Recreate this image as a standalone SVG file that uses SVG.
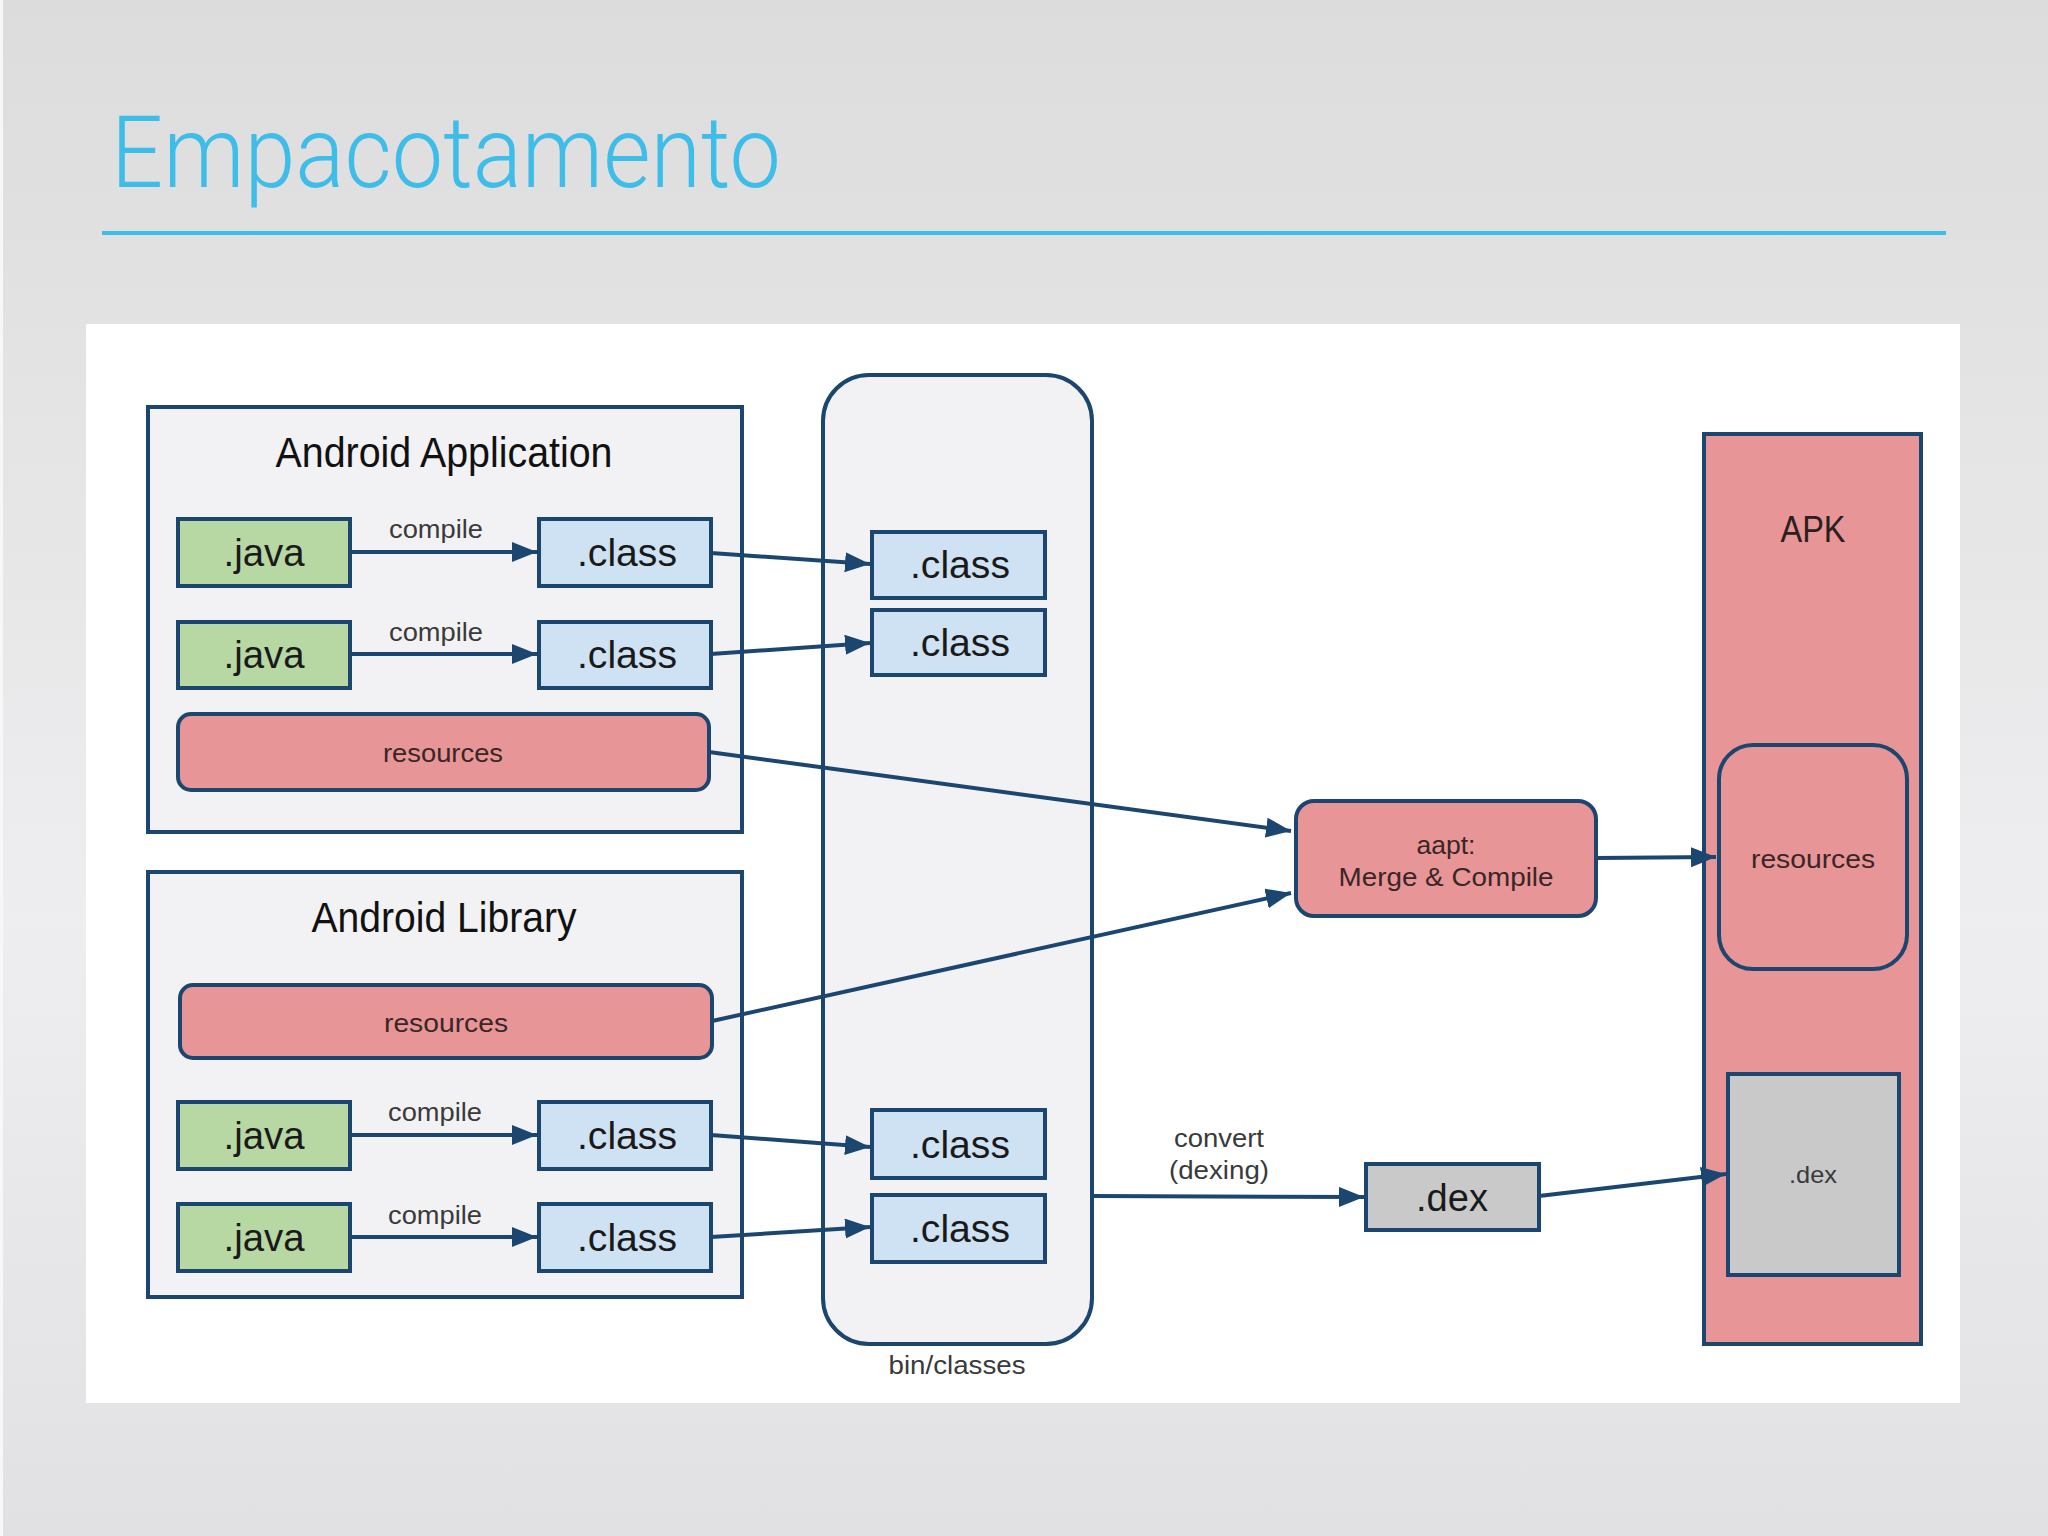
<svg xmlns="http://www.w3.org/2000/svg" width="2048" height="1536" viewBox="0 0 2048 1536">
<defs>
<linearGradient id="bg" x1="0" y1="0" x2="0" y2="1">
<stop offset="0" stop-color="#dcdcdc"/>
<stop offset="0.6" stop-color="#eeeef0"/>
<stop offset="1" stop-color="#e1e1e3"/>
</linearGradient>
<marker id="arr" markerUnits="userSpaceOnUse" markerWidth="28" markerHeight="22" refX="25" refY="10" orient="auto">
<path d="M0,0 L25,10 L0,20 z" fill="#1b4670"/>
</marker>
<style>
.frame{fill:#f2f2f4;stroke:#1b4670;stroke-width:4}
.java{fill:#b7d7a3;stroke:#1b4670;stroke-width:4}
.cls{fill:#cfe2f3;stroke:#1b4670;stroke-width:4}
.res{fill:#e89598;stroke:#1b4670;stroke-width:4}
.dex{fill:#c9c9c9;stroke:#1b4670;stroke-width:4}
.edge{fill:none;stroke:#1b4670;stroke-width:4;marker-end:url(#arr)}
text{font-family:"Liberation Sans",Arial,sans-serif;text-anchor:middle}
.big{font-size:38px;fill:#1a1a1a}
.hdr{font-size:42px;fill:#111}
.sm{font-size:25px;fill:#3a3a3a}
.rs{font-size:25px;fill:#3a2626}
</style>
</defs>
<rect x="0" y="0" width="2048" height="1536" fill="url(#bg)"/>
<rect x="0" y="0" width="3" height="1536" fill="#f7f7f7"/>
<text x="111" y="187" style="font-family:Roboto,'Open Sans',sans-serif;font-weight:300;font-size:100px;fill:#3dbde8;text-anchor:start" textLength="670" lengthAdjust="spacingAndGlyphs">Empacotamento</text>
<rect x="102" y="231" width="1844" height="4" fill="#3dbde8"/>
<rect x="86" y="324" width="1874" height="1079" fill="#ffffff"/>

<g id="bin-classes">
<rect x="823" y="375" width="269" height="969" rx="46" ry="46" class="frame"/>
<text x="957" y="1374" class="sm" textLength="137" lengthAdjust="spacingAndGlyphs">bin/classes</text>
</g>

<g id="android-application">
<rect x="148" y="407" width="594" height="425" class="frame"/>
<text x="444" y="467" class="hdr" textLength="337" lengthAdjust="spacingAndGlyphs">Android Application</text>
</g>
<g id="app-java1"><rect x="178" y="519" width="172" height="67" class="java"/><text x="264" y="566" class="big" textLength="81" lengthAdjust="spacingAndGlyphs">.java</text></g>
<g id="app-java2"><rect x="178" y="622" width="172" height="66" class="java"/><text x="264" y="668" class="big" textLength="81" lengthAdjust="spacingAndGlyphs">.java</text></g>
<g id="app-class1"><rect x="539" y="519" width="172" height="67" class="cls"/><text x="627" y="566" class="big" textLength="100" lengthAdjust="spacingAndGlyphs">.class</text></g>
<g id="app-class2"><rect x="539" y="622" width="172" height="66" class="cls"/><text x="627" y="668" class="big" textLength="100" lengthAdjust="spacingAndGlyphs">.class</text></g>
<g id="app-resources"><rect x="178" y="714" width="531" height="76" rx="13" ry="13" class="res"/><text x="443" y="762" class="rs" textLength="120" lengthAdjust="spacingAndGlyphs">resources</text></g>

<g id="android-library">
<rect x="148" y="872" width="594" height="425" class="frame"/>
<text x="444" y="932" class="hdr" textLength="265" lengthAdjust="spacingAndGlyphs">Android Library</text>
</g>
<g id="lib-resources"><rect x="180" y="985" width="532" height="73" rx="13" ry="13" class="res"/><text x="446" y="1032" class="rs" textLength="124" lengthAdjust="spacingAndGlyphs">resources</text></g>
<g id="lib-java1"><rect x="178" y="1102" width="172" height="67" class="java"/><text x="264" y="1149" class="big" textLength="81" lengthAdjust="spacingAndGlyphs">.java</text></g>
<g id="lib-java2"><rect x="178" y="1204" width="172" height="67" class="java"/><text x="264" y="1251" class="big" textLength="81" lengthAdjust="spacingAndGlyphs">.java</text></g>
<g id="lib-class1"><rect x="539" y="1102" width="172" height="67" class="cls"/><text x="627" y="1149" class="big" textLength="100" lengthAdjust="spacingAndGlyphs">.class</text></g>
<g id="lib-class2"><rect x="539" y="1204" width="172" height="67" class="cls"/><text x="627" y="1251" class="big" textLength="100" lengthAdjust="spacingAndGlyphs">.class</text></g>

<g id="bin-class1"><rect x="872" y="532" width="173" height="66" class="cls"/><text x="960" y="578" class="big" textLength="100" lengthAdjust="spacingAndGlyphs">.class</text></g>
<g id="bin-class2"><rect x="872" y="610" width="173" height="65" class="cls"/><text x="960" y="656" class="big" textLength="100" lengthAdjust="spacingAndGlyphs">.class</text></g>
<g id="bin-class3"><rect x="872" y="1110" width="173" height="68" class="cls"/><text x="960" y="1158" class="big" textLength="100" lengthAdjust="spacingAndGlyphs">.class</text></g>
<g id="bin-class4"><rect x="872" y="1195" width="173" height="67" class="cls"/><text x="960" y="1242" class="big" textLength="100" lengthAdjust="spacingAndGlyphs">.class</text></g>

<g id="aapt"><rect x="1296" y="801" width="300" height="115" rx="18" ry="18" class="res"/>
<text x="1446" y="854" class="rs" textLength="59" lengthAdjust="spacingAndGlyphs">aapt:</text>
<text x="1446" y="886" class="rs" textLength="215" lengthAdjust="spacingAndGlyphs">Merge &amp; Compile</text></g>

<g id="dex"><rect x="1366" y="1164" width="173" height="66" class="dex"/><text x="1452" y="1211" class="big" textLength="72" lengthAdjust="spacingAndGlyphs">.dex</text></g>

<g id="apk">
<rect x="1704" y="434" width="217" height="910" class="res"/>
<text x="1813" y="542" style="font-size:36px;fill:#2a2020" textLength="65" lengthAdjust="spacingAndGlyphs">APK</text>
</g>
<g id="apk-resources"><rect x="1719" y="745" width="188" height="224" rx="34" ry="34" class="res"/><text x="1813" y="868" class="rs" textLength="124" lengthAdjust="spacingAndGlyphs">resources</text></g>
<g id="apk-dex"><rect x="1728" y="1074" width="171" height="201" class="dex"/><text x="1813" y="1183" style="font-size:24px;fill:#3a3a3a" textLength="48" lengthAdjust="spacingAndGlyphs">.dex</text></g>

<g id="connectors">
<line x1="350" y1="552" x2="537" y2="552" class="edge"/>
<line x1="350" y1="654" x2="537" y2="654" class="edge"/>
<line x1="350" y1="1135" x2="537" y2="1135" class="edge"/>
<line x1="350" y1="1237" x2="537" y2="1237" class="edge"/>
<text x="436" y="538" class="sm" textLength="94" lengthAdjust="spacingAndGlyphs">compile</text>
<text x="436" y="641" class="sm" textLength="94" lengthAdjust="spacingAndGlyphs">compile</text>
<text x="435" y="1121" class="sm" textLength="94" lengthAdjust="spacingAndGlyphs">compile</text>
<text x="435" y="1224" class="sm" textLength="94" lengthAdjust="spacingAndGlyphs">compile</text>
<line x1="711" y1="553" x2="870" y2="564" class="edge"/>
<line x1="711" y1="654" x2="870" y2="643" class="edge"/>
<line x1="711" y1="1135" x2="870" y2="1147" class="edge"/>
<line x1="711" y1="1237" x2="870" y2="1227" class="edge"/>
<line x1="709" y1="752" x2="1291" y2="831" class="edge"/>
<line x1="712" y1="1021" x2="1291" y2="893" class="edge"/>
<line x1="1596" y1="858" x2="1716" y2="857" class="edge"/>
<line x1="1092" y1="1196" x2="1364" y2="1197" class="edge"/>
<text x="1219" y="1147" class="sm" textLength="90" lengthAdjust="spacingAndGlyphs">convert</text>
<text x="1219" y="1179" class="sm" textLength="100" lengthAdjust="spacingAndGlyphs">(dexing)</text>
<line x1="1539" y1="1196" x2="1726" y2="1174" class="edge"/>
</g>
</svg>
